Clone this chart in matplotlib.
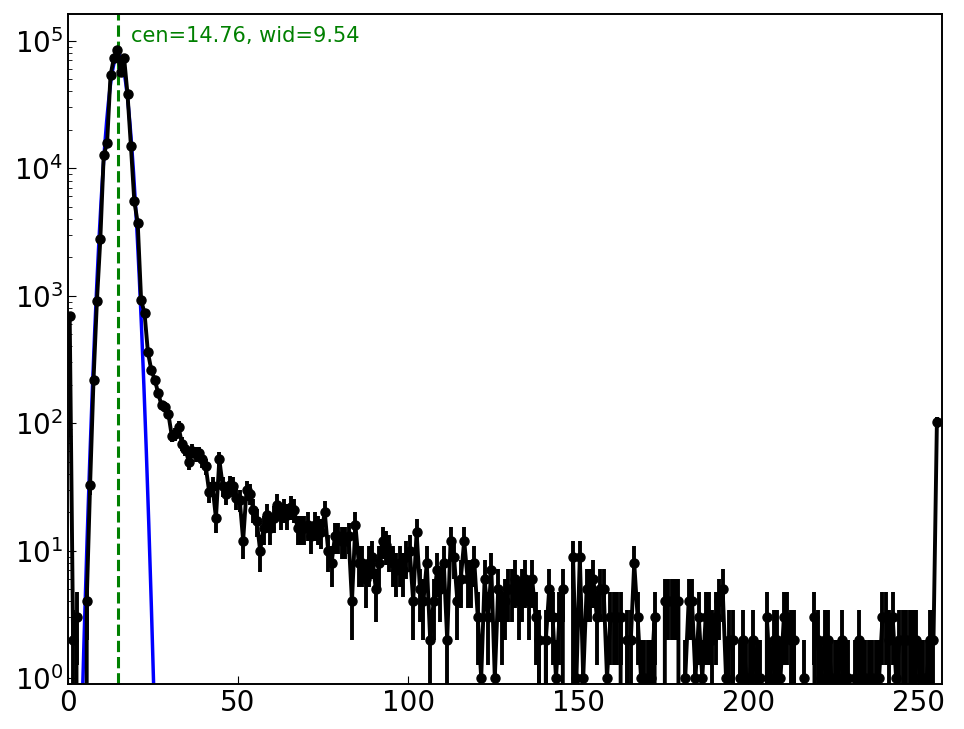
import numpy as np
import matplotlib
matplotlib.use("Agg")
import matplotlib.pyplot as plt

# histogram counts per bin (256 bins)
counts = [
    690, 2, 3, 0, 0, 4, 33, 217, 906, 2760,
    12600, 15800, 53600, 73300, 84200, 56900, 73300, 38000, 14900, 5500,
    3720, 923, 733, 360, 261, 220, 173, 138, 135, 119,
    80, 82, 94, 69, 63, 50, 61, 57, 58, 52,
    46, 29, 32, 18, 52, 32, 28, 33, 32, 26,
    25, 12, 30, 28, 21, 17, 10, 15, 19, 15,
    18, 23, 19, 21, 19, 22, 21, 15, 15, 15,
    16, 13, 16, 15, 14, 20, 10, 8, 13, 13,
    12, 12, 13, 4, 16, 8, 8, 6, 8, 9,
    5, 8, 12, 11, 10, 8, 7, 8, 7, 9,
    10, 4, 14, 5, 4, 8, 2, 4, 7, 5,
    8, 2, 12, 9, 4, 6, 12, 6, 6, 8,
    3, 1, 6, 3, 7, 1, 5, 3, 4, 5,
    5, 6, 4, 5, 6, 4, 6, 3, 2, 0,
    2, 5, 3, 1, 3, 5, 0, 0, 9, 1,
    9, 1, 5, 5, 6, 3, 5, 5, 1, 3,
    3, 3, 3, 0, 2, 2, 8, 3, 1, 1,
    1, 1, 3, 0, 0, 4, 4, 4, 4, 4,
    0, 1, 4, 4, 1, 3, 1, 3, 3, 2,
    3, 4, 5, 1, 2, 2, 0, 1, 2, 1,
    1, 2, 1, 1, 0, 3, 1, 2, 2, 1,
    3, 3, 2, 2, 0, 0, 1, 0, 0, 3,
    2, 1, 2, 2, 1, 1, 1, 2, 1, 1,
    0, 1, 2, 1, 1, 1, 1, 1, 1, 3,
    3, 2, 3, 1, 2, 2, 2, 2, 2, 2,
    1, 1, 1, 2, 2, 102,
]

# gaussian fit parameters
cen = 14.76
wid = 9.54
amp = 78000

counts = np.array(counts, dtype=float)
x = np.arange(len(counts)) + 0.5
err = np.sqrt(counts)

fig = plt.figure(figsize=(9.64, 7.29), dpi=100)
ax = fig.add_axes([68/964, 1-684/729, (942-68)/964, (684-14)/729])

ax.errorbar(x, counts, yerr=err, fmt='-o', color='k', lw=2.8, ms=6.5,
            elinewidth=2.8, capsize=0)

xf = np.linspace(0, 40, 2000)
ax.plot(xf, amp*np.exp(-(xf-cen)**2/wid), color='b', lw=2.5)

ax.axvline(cen, color='g', ls='--', lw=2.2)
ax.text(cen + 3.9, 1.08e5, 'cen=%.2f, wid=%.2f' % (cen, wid), color='g',
        fontsize=15, va='center')

ax.set_yscale('log')
ax.set_xlim(0, 257)
ax.set_ylim(0.9, 1.62e5)
ax.tick_params(which='both', direction='in', labelsize=20)
ax.tick_params(which='major', length=6)
ax.tick_params(which='minor', length=3)
for s in ax.spines.values():
    s.set_linewidth(1.4)

fig.savefig('out.png', dpi=100)
